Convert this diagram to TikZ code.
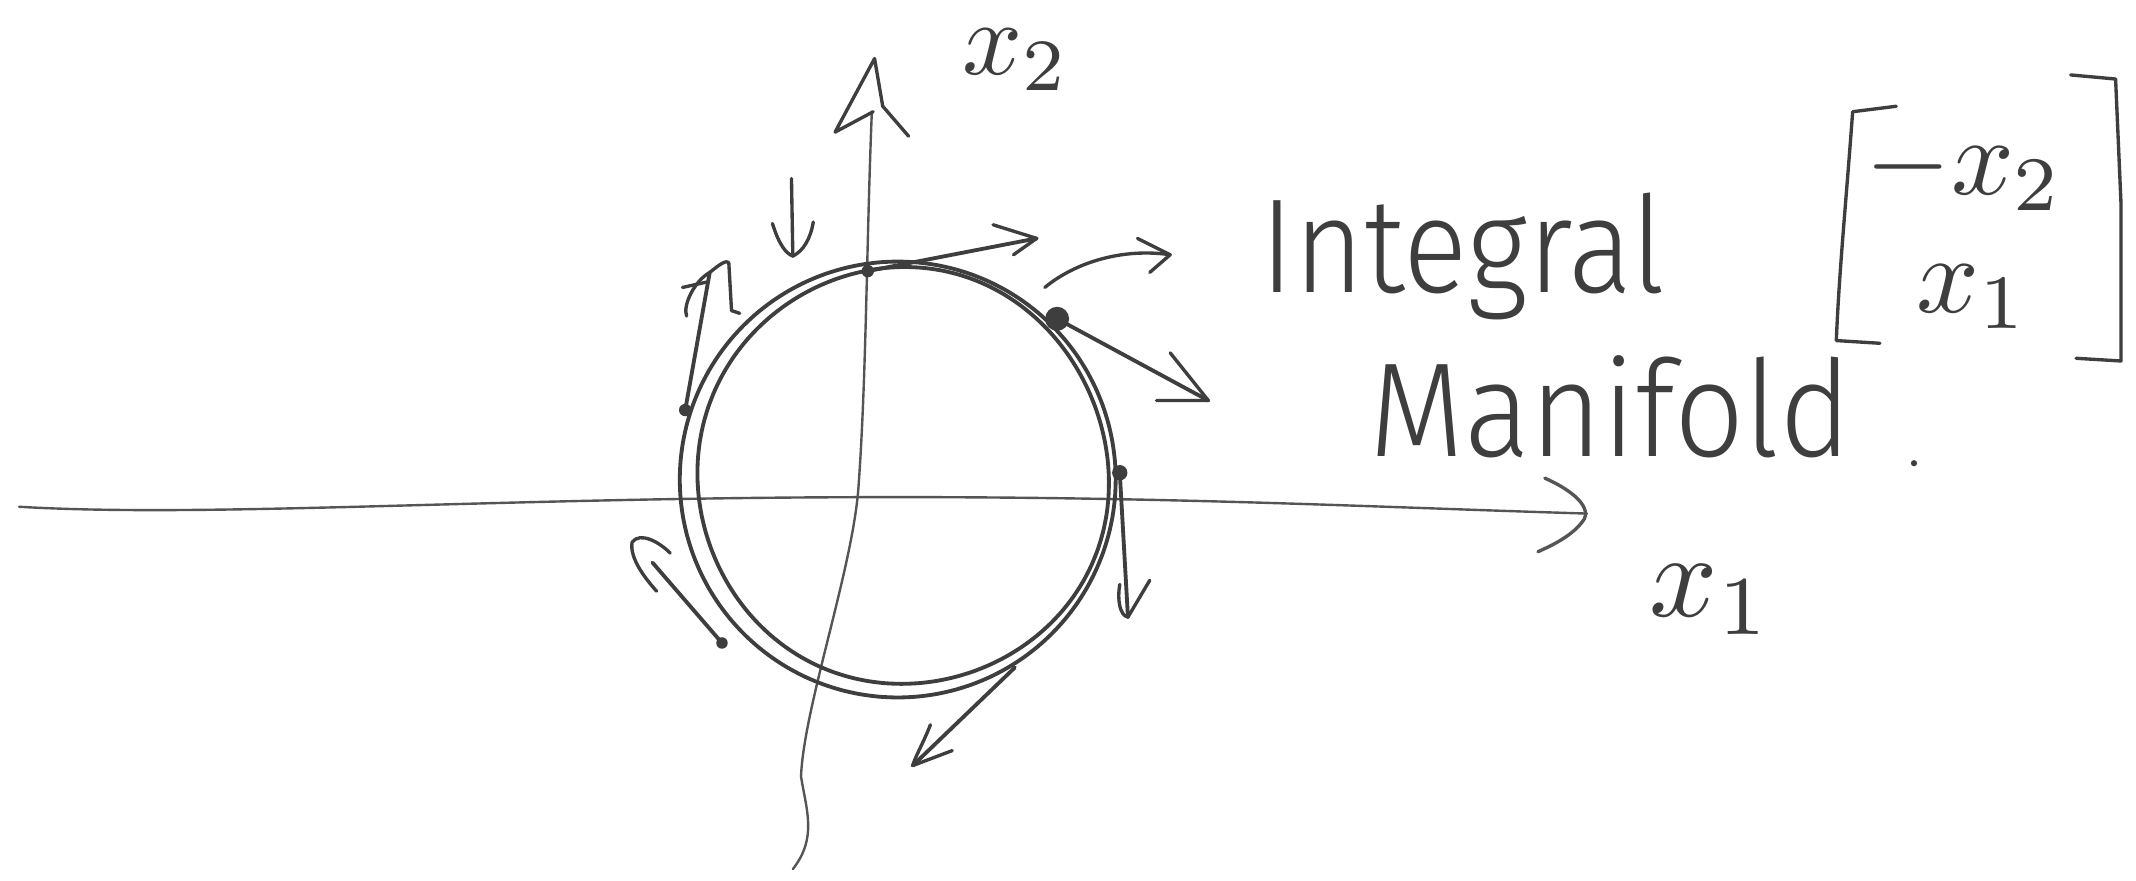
\documentclass[tikz,border=0pt]{standalone}
\usepackage{fontspec}
\setmainfont{Fira Sans}[UprightFont=* Light]
\usepackage{graphicx}
\definecolor{inkc}{HTML}{3E3E3E}
\definecolor{axisc}{HTML}{555555}
\begin{document}
\begin{tikzpicture}[x=0.02cm,y=-0.02cm,line cap=round,line join=round,
  ink/.style={draw=inkc,line width=1.6pt},
  axisline/.style={draw=axisc,line width=1pt},
  headink/.style={draw=inkc,line width=1.4pt},
  handtext/.style={text=inkc,inner sep=0pt,font=\fontsize{50}{56}\selectfont},
  mathlbl/.style={text=inkc,inner sep=0pt}]
\useasboundingbox[fill=white] (0,0) rectangle (1568,646);

% ---------- coordinates ----------
\coordinate (hS) at (14,372);
\coordinate (hE) at (1165,377);
\coordinate (vS) at (582,638);
\coordinate (vE) at (640,82);
\coordinate (dTop) at (637,199);
\coordinate (tTop) at (761,175);
\coordinate (dUR) at (776,234);
\coordinate (tUR) at (887,294);
\coordinate (cS) at (767,211);
\coordinate (cE) at (859,187);
\coordinate (dL) at (503,301);
\coordinate (tL) at (521,200);
\coordinate (sS) at (581,131);
\coordinate (tS) at (582,188);
\coordinate (dR) at (822,347);
\coordinate (tR) at (828,453);
\coordinate (sBR) at (745,490);
\coordinate (tBR) at (670,562);
\coordinate (dLL) at (530,472);
\coordinate (tLL) at (479,413);

% ---------- axes ----------
\draw[axisline] (hS) .. controls (150,380) and (350,366) .. (620,365)
  .. controls (850,364) and (1000,372) .. (hE);
\draw[axisline,line width=1.4pt] (1134,351) .. controls (1150,358) and (1168,370) .. (1163,381)
  .. controls (1155,393) and (1140,400) .. (1129,405);
\draw[axisline] (vS) .. controls (600,615) and (592,595) .. (588,570)
  .. controls (590,520) and (625,420) .. (630,360)
  .. controls (636,280) and (636,180) .. (vE);
\draw[headink] (641,82) -- (613,97) -- (642,43) -- (648,78) -- (667,100);

% ---------- circle (integral manifold) ----------
\draw[ink] plot[domain=0:355,samples=72,smooth cycle] ({659+160*cos(\x)},{352+160*sin(\x)});
\draw[ink] plot[domain=0:355,samples=72,smooth cycle]
  ({663+151*cos(\x)+1.2*sin(3*\x)},{350+153*sin(\x)+1*cos(2*\x)});

% ---------- dots ----------
\fill[inkc] (dTop) circle (2.6pt);
\fill[inkc] (dL) circle (2.6pt);
\fill[inkc] (dUR) circle (5pt);
\fill[inkc] (dR) circle (3.2pt);
\fill[inkc] (dLL) circle (2.4pt);

% ---------- tangent vectors ----------
\draw[ink] (dTop) -- (tTop);
\draw[headink] (729,165) -- (tTop) -- (744,187);

\draw[ink] (dUR) -- (tUR);
\draw[headink] (859,259) -- (tUR) -- (849,294);

\draw[headink] (cS) .. controls (790,192) and (825,182) .. (cE);
\draw[headink] (835,175) -- (cE) -- (844,200);

\draw[ink] (dL) -- (tL);
\draw[headink] (504,232) .. controls (501,224) and (510,206) .. (tL)
  .. controls (526,196) and (533,190) .. (535,193) -- (537,228) -- (543,230);
\draw[headink] (501,211) -- (519,207);

\draw[headink] (sS) -- (tS);
\draw[headink] (567,164) .. controls (572,180) and (577,186) .. (tS)
  .. controls (590,184) and (595,175) .. (597,163);

\draw[ink] (dR) -- (tR);
\draw[headink] (822,429) .. controls (820,440) and (822,452) .. (tR) -- (844,426);

\draw[ink] (sBR) -- (tBR);
\draw[headink] (683,532) .. controls (678,545) and (672,555) .. (tBR) -- (699,551);

\draw[ink] (dLL) -- (tLL);
\draw[headink] (492,406) .. controls (484,398) and (470,390) .. (464,398)
  .. controls (462,410) and (474,425) .. (482,434);

% ---------- labels ----------
\node[mathlbl] (lx2) at (746,44) {\scalebox{4.4}{$x_2$}};
\node[mathlbl] (lx1) at (1256,440) {\scalebox{5}{$x_1$}};
\node[handtext,anchor=base west] (lint) at (925,215) {\scalebox{1}[1.12]{Integral}};
\node[handtext,anchor=base west] (lman) at (1005,335) {\scalebox{1.03}[1.12]{Manifold}};
\fill[inkc] (1405,340) circle (1.3pt);

% ---------- matrix ----------
\draw[headink] (1392,78) -- (1360,82) .. controls (1355,150) and (1350,200) .. (1348,250) -- (1380,252);
\draw[headink] (1520,55) -- (1553,58) -- (1557,150) -- (1557,265) -- (1524,263);
\node[mathlbl] (m1) at (1442,125) {\scalebox{4.6}{$-x_2$}};
\node[mathlbl] (m2) at (1448,218) {\scalebox{4.6}{$x_1$}};
\end{tikzpicture}
\end{document}
